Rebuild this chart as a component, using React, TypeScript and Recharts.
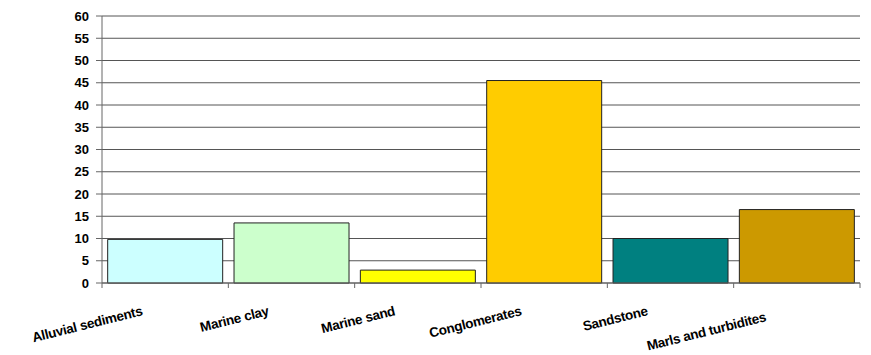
import { Bar, BarChart, CartesianGrid, Cell, XAxis, YAxis } from 'recharts'

const categories = [
  'Alluvial sediments',
  'Marine clay',
  'Marine sand',
  'Conglomerates',
  'Sandstone',
  'Marls and turbidites',
]
const values = [9.8, 13.5, 2.9, 45.5, 10, 16.5]
const colors = ['#CCFFFF', '#CCFFCC', '#FFFF00', '#FFCC00', '#008080', '#CC9900']
const yTicks = [0, 5, 10, 15, 20, 25, 30, 35, 40, 45, 50, 55, 60]

const WIDTH = 871
const HEIGHT = 355
const MARGIN = { top: 16, right: 11, left: 0, bottom: 0 }
const Y_AXIS_W = 102
const X_AXIS_H = 72
const PLOT_W = WIDTH - MARGIN.left - MARGIN.right - Y_AXIS_W

const FONT = '"Liberation Sans", Arial, sans-serif'
const AXIS_COLOR = '#666'

const data = categories.map((name, i) => ({ name, value: values[i] }))

// rough width of a rotated label, used to push colliding labels down a row
const labelWidth = (s: string) => s.length * 7

function isStaggered(index: number) {
  if (index === 0) return false
  const step = PLOT_W / categories.length
  const prevEnd = (index - 1) * step
  const start = index * step - labelWidth(categories[index]) * Math.cos((14 * Math.PI) / 180)
  return start < prevEnd
}

function CategoryTick(props: any) {
  const { x, y, payload, index } = props
  const step = PLOT_W / categories.length
  const left = x - step / 2
  const last = index === categories.length - 1
  const shifted = isStaggered(index)
  const tx = x - 22 - (shifted ? 8 : 0)
  const ty = y + 32 + (shifted ? 6 : 0)
  return (
    <g>
      <line x1={left} y1={y} x2={left} y2={y + 5} stroke={AXIS_COLOR} />
      {last && <line x1={left + step} y1={y} x2={left + step} y2={y + 5} stroke={AXIS_COLOR} />}
      <text
        x={tx}
        y={ty}
        textAnchor="end"
        transform={`rotate(-14, ${tx}, ${ty})`}
        fontFamily={FONT}
        fontWeight="bold"
        fontSize={13.5}
        letterSpacing={-0.3}
        fill="#000"
      >
        {payload.value}
      </text>
    </g>
  )
}

export default function App() {
  return (
    <div style={{ position: 'absolute', left: 0, top: 0, background: '#fff' }}>
      <BarChart width={WIDTH} height={HEIGHT} data={data} margin={MARGIN} barCategoryGap="4.5%">
        <CartesianGrid horizontal vertical={false} stroke="#555" strokeOpacity={1} />
        <XAxis
          dataKey="name"
          height={X_AXIS_H}
          interval={0}
          tickSize={0}
          tickMargin={0}
          tickLine={false}
          axisLine={{ stroke: AXIS_COLOR }}
          tick={<CategoryTick />}
        />
        <YAxis
          type="number"
          domain={[0, 60]}
          ticks={yTicks}
          interval={0}
          width={Y_AXIS_W}
          tickSize={6}
          tickMargin={7}
          axisLine={{ stroke: AXIS_COLOR }}
          tickLine={{ stroke: AXIS_COLOR }}
          tick={{ fontFamily: FONT, fontWeight: 'bold', fontSize: 13, fill: '#000' }}
        />
        <Bar dataKey="value" stroke="#222" strokeWidth={1} isAnimationActive={false}>
          {data.map((d, i) => (
            <Cell key={d.name} fill={colors[i]} />
          ))}
        </Bar>
      </BarChart>
    </div>
  )
}
